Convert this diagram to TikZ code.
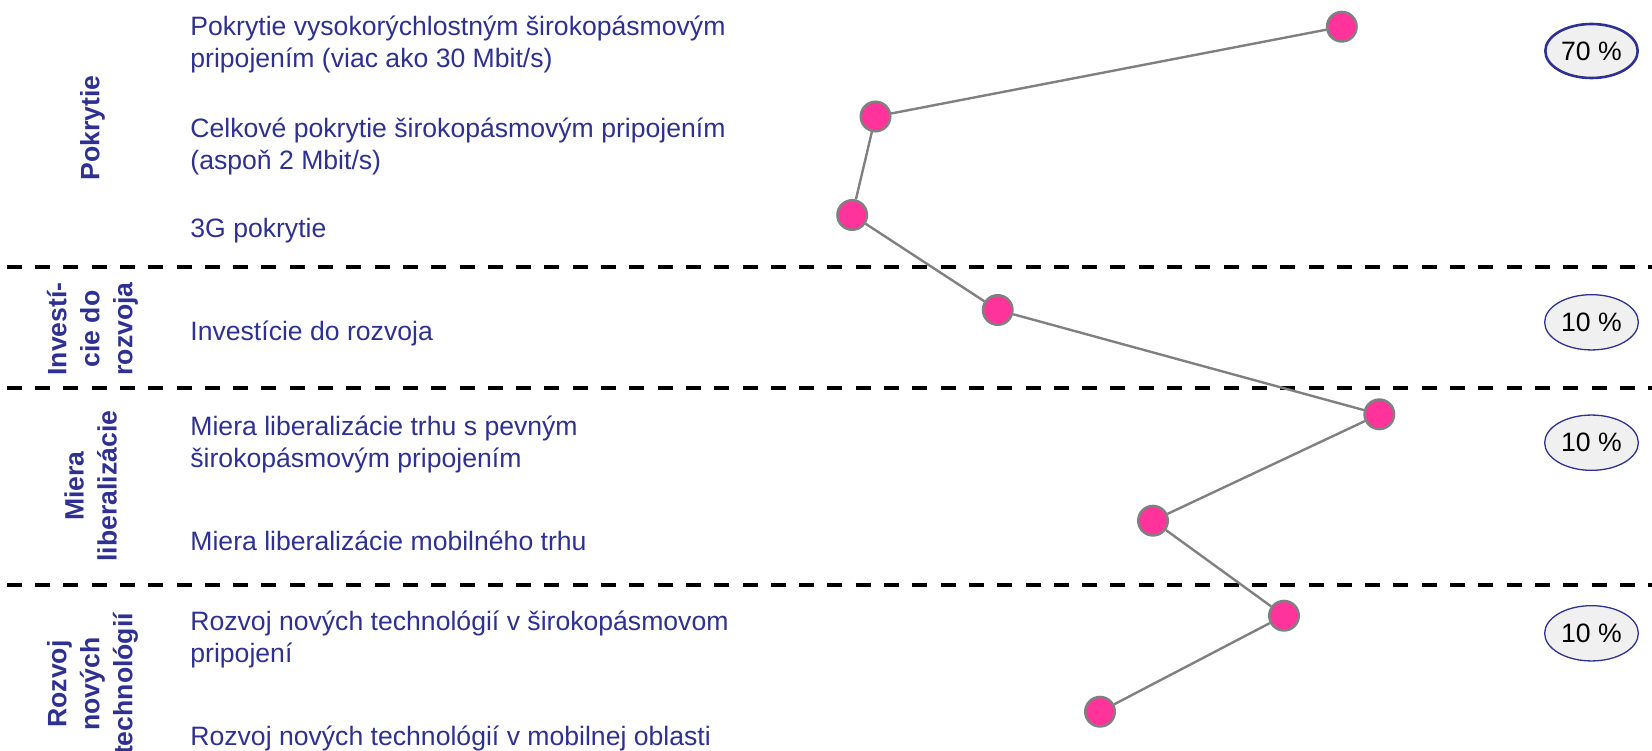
\documentclass[tikz,border=0pt]{standalone}
\usepackage{fontspec}
\setmainfont{Liberation Sans}
\usetikzlibrary{shapes.geometric}
\definecolor{navy}{RGB}{46,49,146}
\definecolor{dotpink}{RGB}{255,51,153}
\definecolor{dotgray}{RGB}{128,128,128}
\definecolor{ellfill}{RGB}{240,240,240}
\begin{document}
\begin{tikzpicture}[x=1pt,y=-1pt,
  item/.style={anchor=base west, inner sep=0pt, text=navy, align=left, font=\fontsize{26.6}{32}\selectfont},
  grp/.style={rotate=90, inner sep=0pt, text=navy, align=center, font=\fontsize{26.6}{33}\selectfont\bfseries},
  dot/.style={circle, fill=dotpink, draw=dotgray, line width=2.5pt, minimum size=29.5pt, inner sep=0pt},
  link/.style={draw=dotgray, line width=2.4pt},
  sepline/.style={line width=4pt, dash pattern=on 15pt off 13.3pt},
  pct/.style={ellipse, fill=ellfill, draw=navy, line width=1.3pt, minimum width=93.7pt, minimum height=55.3pt, inner sep=0pt, font=\fontsize{26.6}{32}\selectfont},
]
\useasboundingbox (0,0) rectangle (1652,751);

% separators
\coordinate (s1l) at (6.7,267.5); \coordinate (s1r) at (1652,267.5);
\coordinate (s2l) at (6.7,388);   \coordinate (s2r) at (1652,388);
\coordinate (s3l) at (6.7,585);   \coordinate (s3r) at (1652,585);
\draw[sepline] (s1l) -- (s1r);
\draw[sepline] (s2l) -- (s2r);
\draw[sepline] (s3l) -- (s3r);

% group labels
\node[grp] (g1) at (92.5,128) {Pokrytie};
\node[grp] (g2) at (92.5,329) {Investí-\\cie do\\rozvoja};
\node[grp] (g3) at (90.5,486) {Miera\\liberalizácie};
\node[grp] (g4) at (92.5,684) {Rozvoj\\nových\\technológií};

% items (base = baseline of the last line)
\node[item] (t1) at (190.2,67.5) {Pokrytie vysokorýchlostným širokopásmovým\\pripojením (viac ako 30 Mbit/s)};
\node[item] (t2) at (190.2,169.5) {Celkové pokrytie širokopásmovým pripojením\\(aspoň 2 Mbit/s)};
\node[item] (t3) at (190.2,237.5) {3G pokrytie};
\node[item] (t4) at (190.2,341) {Investície do rozvoja};
\node[item] (t5) at (190.2,467.5) {Miera liberalizácie trhu s pevným\\širokopásmovým pripojením};
\node[item] (t6) at (190.2,550) {Miera liberalizácie mobilného trhu};
\node[item] (t7) at (190.2,662.5) {Rozvoj nových technológií v širokopásmovom\\pripojení};
\node[item] (t8) at (190.2,745) {Rozvoj nových technológií v mobilnej oblasti};

% dots
\node[dot] (d1) at (1341.8,26.7) {};
\node[dot] (d2) at (875.5,116.5) {};
\node[dot] (d3) at (852.2,215) {};
\node[dot] (d4) at (997.7,310) {};
\node[dot] (d5) at (1379.3,414.3) {};
\node[dot] (d6) at (1153,520.7) {};
\node[dot] (d7) at (1284,615.7) {};
\node[dot] (d8) at (1100,711.7) {};
\draw[link] (d1) -- (d2);
\draw[link] (d2) -- (d3);
\draw[link] (d3) -- (d4);
\draw[link] (d4) -- (d5);
\draw[link] (d5) -- (d6);
\draw[link] (d6) -- (d7);
\draw[link] (d7) -- (d8);

% weights
\node[pct, line width=2.6pt, minimum width=92.4pt, minimum height=54pt] (p1) at (1591.5,51) {70 \%};
\node[pct] (p2) at (1591.5,322.3) {10 \%};
\node[pct] (p3) at (1591.5,442.7) {10 \%};
\node[pct] (p4) at (1591.5,633.3) {10 \%};
\end{tikzpicture}
\end{document}
